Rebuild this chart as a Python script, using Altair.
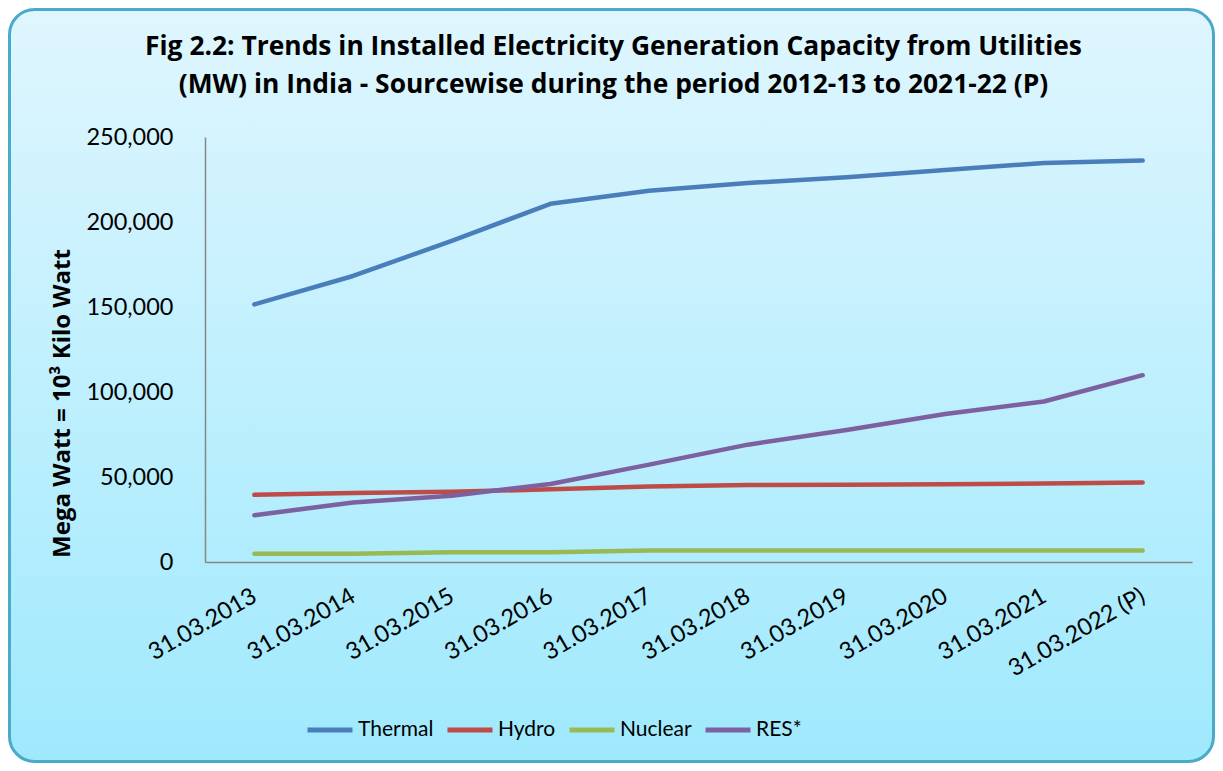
import altair as alt
import pandas as pd

years = ["31.03.2013", "31.03.2014", "31.03.2015", "31.03.2016", "31.03.2017",
         "31.03.2018", "31.03.2019", "31.03.2020", "31.03.2021", "31.03.2022 (P)"]
thermal = [151530, 168255, 188898, 210675, 218330, 222907, 226279, 230600, 234728, 236109]
hydro = [39491, 40531, 41267, 42783, 44478, 45293, 45399, 45699, 46209, 46723]
nuclear = [4780, 4780, 5780, 5780, 6780, 6780, 6780, 6780, 6780, 6780]
res = [27542, 34988, 38959, 45924, 57260, 69022, 77641, 87028, 94434, 109885]
sources = ["Thermal", "Hydro", "Nuclear", "RES*"]
colors = ["#4a7ebb", "#be4b48", "#98b954", "#7d60a0"]

rows = []
for name, vals in zip(sources, [thermal, hydro, nuclear, res]):
    for i, (y, v) in enumerate(zip(years, vals)):
        rows.append({"Year": y, "MW": v, "Source": name, "order": sources.index(name)})
df = pd.DataFrame(rows)

FONT = "Lato"
BOLD = "Open Sans"

gradient = alt.LinearGradient(
    gradient="linear", x1=0, x2=0, y1=0, y2=1,
    stops=[alt.GradientStop(color="#dff6fe", offset=0),
           alt.GradientStop(color="#9fe9fd", offset=1)],
)

bg = alt.Chart(pd.DataFrame({"a": [0]})).mark_rect(
    fill=gradient, stroke="#4aaac8", strokeWidth=3, cornerRadius=25
).encode(
    x=alt.value(-195.5), x2=alt.value(1008.5),
    y=alt.value(-127.5), y2=alt.value(624.5),
)

lines = alt.Chart(df).mark_line(
    strokeWidth=4.5, strokeCap="round", strokeJoin="round"
).encode(
    x=alt.X("Year:N", sort=years,
            scale=alt.Scale(type="point", padding=0.5),
            axis=alt.Axis(title=None, labelAngle=330, labelAlign="right",
                          labelBaseline="middle", labelPadding=32,
                          ticks=False, tickSize=0, domainColor="#868686",
                          domainWidth=1.5, labelFontSize=23.5, labelColor="black",
                          labelFont=FONT, zindex=1)),
    y=alt.Y("MW:Q", scale=alt.Scale(domain=[0, 250000], nice=False),
            axis=alt.Axis(title="Mega Watt = 10³  Kilo Watt", format=",d",
                          values=[0, 50000, 100000, 150000, 200000, 250000],
                          grid=False, ticks=False, tickSize=0,
                          domainColor="#868686", domainWidth=1.5,
                          labelPadding=32, labelFontSize=23.5, labelColor="black",
                          labelFont=FONT, zindex=1,
                          titleFont=BOLD, titleFontSize=24, titleFontWeight="bold",
                          titleColor="black", titleAngle=270, titleX=-143,
                          titleY=266, titleAlign="center", titleBaseline="middle")),
    color=alt.Color("Source:N", sort=sources,
                    scale=alt.Scale(domain=sources, range=colors),
                    legend=alt.Legend(title=None, orient="none", direction="horizontal",
                                      legendX=100, legendY=568, padding=0,
                                      symbolType="stroke", symbolSize=2025,
                                      symbolStrokeWidth=5, labelOffset=3,
                                      columnPadding=3, labelFontSize=21,
                                      labelFont=FONT, labelColor="black")),
    order=alt.Order("order:Q"),
)

chart = alt.layer(bg, lines).properties(
    width=987, height=425,
    autosize=alt.AutoSizeParams(type="none"),
    padding={"left": 197, "top": 129, "right": 23, "bottom": 201},
    title=alt.TitleParams(
        text=["Fig 2.2: Trends in Installed Electricity Generation Capacity from Utilities",
              "(MW) in India - Sourcewise during the period 2012-13 to 2021-22 (P)"],
        font=BOLD, fontSize=26.4, fontWeight="bold", color="black",
        anchor="middle", frame="group", dx=-85, offset=-90, lineHeight=38),
).configure_view(stroke=None).configure(background="white")

chart.save("out.html", embed_options={"renderer": "svg", "actions": False})
